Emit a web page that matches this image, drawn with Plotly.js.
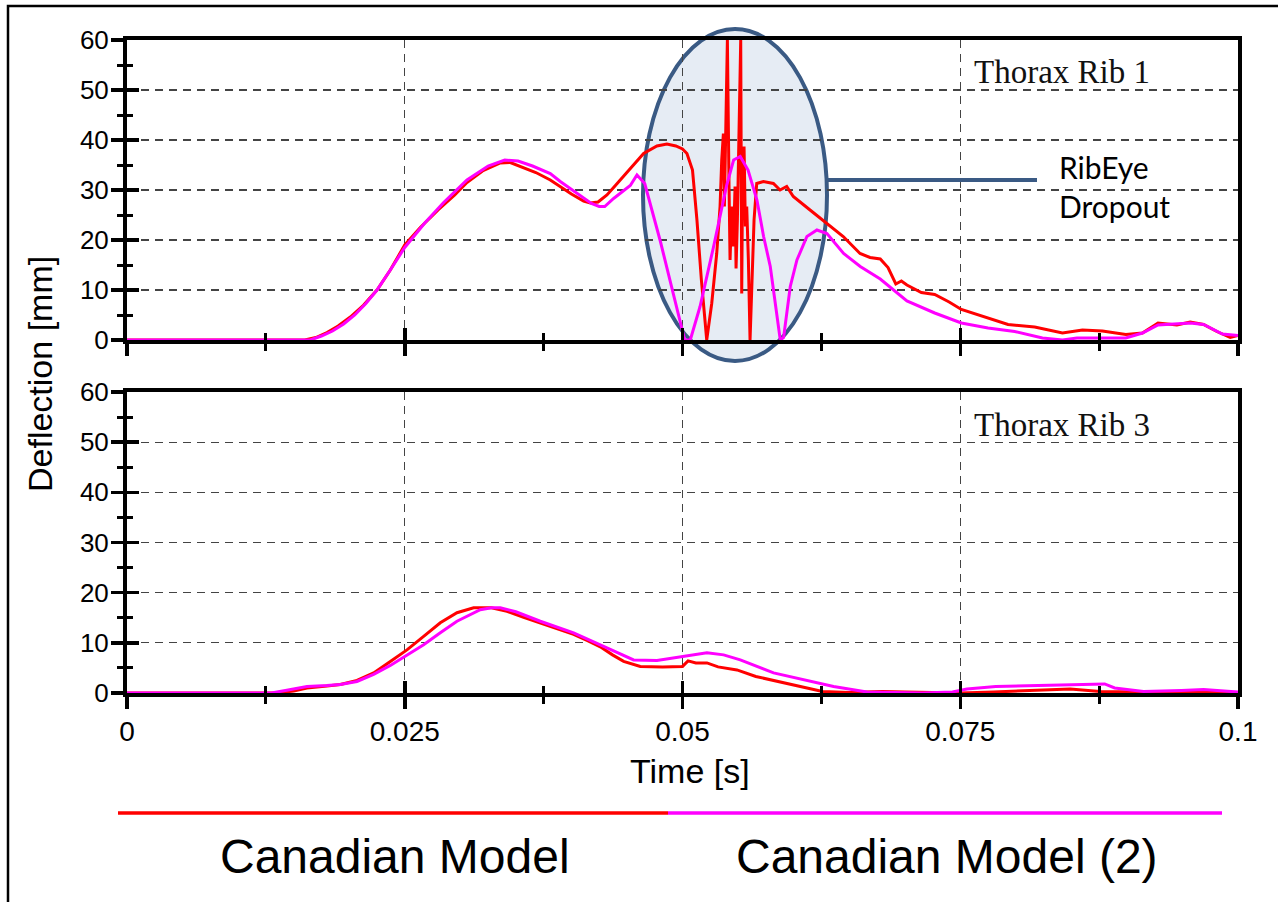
<!DOCTYPE html>
<html><head><meta charset="utf-8">
<script src="https://cdn.plot.ly/plotly-3.0.1.min.js"></script>
<style>html,body{margin:0;padding:0;background:#fff}#chart{width:1278px;height:902px}</style>
</head><body><div id="chart"></div>
<script>
// ---- data (time in s, deflection in mm) ----
const rib1TimeModel = [0,0.010,0.0160,0.0170,0.0180,0.0190,0.0201,0.0213,0.0225,0.0237,0.0250,0.0264,0.0280,0.0295,0.0306,0.0320,0.0336,0.0345,0.0354,0.0368,0.0381,0.0390,0.0400,0.0411,0.0417,0.0424,0.0432,0.0440,0.0450,0.0458,0.0465,0.0477,0.0486,0.0494,0.0500,0.0504,0.0509,0.0513,0.0517,0.05218,0.05263,0.05308,0.05338,0.05353,0.05368,0.05377,0.05389,0.05404,0.05419,0.05428,0.05443,0.05458,0.05473,0.05482,0.05494,0.05509,0.05524,0.05533,0.05542,0.05554,0.05566,0.05578,0.05593,0.05608,0.05623,0.05644,0.05668,0.05728,0.05818,0.05878,0.05938,0.05997,0.06148,0.06298,0.06447,0.06598,0.06688,0.0678,0.0685,0.0692,0.0697,0.0702,0.0715,0.0727,0.0740,0.0751,0.0769,0.0793,0.0817,0.0842,0.0860,0.0878,0.0899,0.0914,0.0928,0.0945,0.0957,0.0969,0.0981,0.0993,0.1];
const rib1DeflModel = [0,0,0,0.5,1.5,2.8,4.6,7,10,14,19,22.5,26,29,31.5,33.8,35.4,35.5,34.7,33.5,32,30.7,29.2,27.8,27.4,27.6,29,31,33.5,35.5,37.3,38.8,39.2,38.8,38.2,37.3,34,24,12,0,7.3,17.3,26.7,36,41.3,26.7,38.7,60,30.7,16,26.7,18.7,30.7,14.3,24,38.7,60,9.3,37.3,38.7,22.7,26.7,16,0,10.7,24,31.3,31.7,31.3,30,30.7,28.7,26,23.3,20.7,17.3,16.5,16.2,14.5,11.2,11.8,11,9.5,9.1,7.6,6.1,4.8,3.1,2.6,1.4,2,1.8,1.1,1.4,3.4,3,3.6,3.1,1.7,0.5,0.9];

const rib1TimeModel2 = [0,0.0165,0.0175,0.0185,0.0195,0.0205,0.0215,0.0225,0.0237,0.0250,0.0268,0.0285,0.0306,0.0325,0.0340,0.0352,0.0365,0.0381,0.0390,0.0405,0.0418,0.0425,0.0430,0.0438,0.0445,0.0453,0.0459,0.0466,0.0480,0.0502,0.0507,0.05158,0.05278,0.05398,0.0546,0.0552,0.0559,0.0567,0.0573,0.0579,0.0588,0.0591,0.0597,0.0603,0.0612,0.0621,0.0630,0.0645,0.0660,0.0678,0.0702,0.0727,0.0751,0.0775,0.0799,0.0824,0.0842,0.0855,0.0872,0.0899,0.0914,0.0928,0.0957,0.0969,0.0986,0.1];
const rib1DeflModel2 = [0,0,0.8,1.8,3.2,5,7.3,10,14,18.5,23.4,27.5,32,34.8,36,35.8,34.8,33.3,31.7,29.3,27.3,26.7,26.7,28.3,29.5,30.9,33,31.3,19.8,0,0,6.7,18.5,31,36,36.7,34,28,20.7,14.7,0,0.5,10.7,16,20.7,22,21.3,17.3,14.7,12.2,7.8,5.4,3.4,2.4,1.7,0.4,0,0.4,0.4,0.4,1.4,3,3.4,3.1,1.2,0.9];

const rib3TimeModel = [0,0.0135,0.0150,0.0162,0.0180,0.0192,0.0207,0.0222,0.0237,0.0252,0.0267,0.0282,0.0297,0.0312,0.0328,0.0342,0.0357,0.0372,0.0387,0.0402,0.0415,0.0426,0.0437,0.0447,0.0462,0.0482,0.0500,0.0505,0.0512,0.0522,0.0532,0.0549,0.0566,0.0582,0.0599,0.0613,0.0626,0.0650,0.0680,0.0700,0.0750,0.0780,0.0816,0.0849,0.0876,0.0900,0.0950,0.1];
const rib3DeflModel = [0,0,0.4,1.0,1.4,1.7,2.5,4,6.3,8.6,11.3,14,16,17,17,16.3,15.1,14,12.8,11.7,10.4,9.2,7.6,6.3,5.3,5.2,5.3,6.4,6.0,6,5.2,4.6,3.3,2.5,1.6,0.9,0.3,0.1,0.3,0.2,0,0.2,0.5,0.8,0.3,0.2,0.1,0.1];

const rib3TimeModel2 = [0,0.0130,0.0145,0.0162,0.0180,0.0192,0.0207,0.0222,0.0237,0.0252,0.0267,0.0282,0.0297,0.0318,0.0328,0.0336,0.0350,0.0372,0.0402,0.0432,0.0456,0.0477,0.0500,0.0522,0.0537,0.0552,0.0582,0.0616,0.0636,0.0666,0.0716,0.0743,0.0756,0.0782,0.0816,0.0849,0.0880,0.0889,0.0915,0.0949,0.0969,0.1];
const rib3DeflModel2 = [0,0,0.6,1.3,1.5,1.7,2.3,3.7,5.5,7.6,9.6,12,14.3,16.6,17,17,16.2,14.3,12,9,6.6,6.5,7.3,8,7.6,6.6,4,2.3,1.3,0.2,0,0.2,0.8,1.3,1.5,1.6,1.8,1.0,0.3,0.5,0.7,0.2];

const xTickVals = [0, 0.025, 0.05, 0.075, 0.1];
const xTickText = ['0', '0.025', '0.05', '0.075', '0.1'];
const yTickVals = [0, 10, 20, 30, 40, 50, 60];
const seriesNames = ['Canadian Model', 'Canadian Model (2)'];
const seriesColors = ['#ff0000', '#ff00ff'];
const panelLabels = ['Thorax Rib 1', 'Thorax Rib 3'];

// ---- layout helpers (pixel -> paper) ----
const L = 127, R = 1238, T = 40, B = 693;
const px = v => (v - L) / (R - L);
const py = v => (B - v) / (B - T);

const FONT = 'Liberation Sans, Arial, sans-serif';

function trace(x, y, i, xa, ya) {
  return {x: x, y: y, type: 'scatter', mode: 'lines', name: seriesNames[i],
    line: {color: seriesColors[i], width: 3}, xaxis: xa, yaxis: ya, showlegend: false};
}
const data = [
  trace(rib1TimeModel, rib1DeflModel, 0, 'x', 'y'),
  trace(rib1TimeModel2, rib1DeflModel2, 1, 'x', 'y'),
  trace(rib3TimeModel, rib3DeflModel, 0, 'x2', 'y2'),
  trace(rib3TimeModel2, rib3DeflModel2, 1, 'x2', 'y2'),
  {x: [], y: [], xaxis: 'x3', yaxis: 'y', type: 'scatter', showlegend: false, hoverinfo: 'skip'},
  {x: [], y: [], xaxis: 'x', yaxis: 'y3', type: 'scatter', showlegend: false, hoverinfo: 'skip'},
  {x: [], y: [], xaxis: 'x4', yaxis: 'y2', type: 'scatter', showlegend: false, hoverinfo: 'skip'},
  {x: [], y: [], xaxis: 'x2', yaxis: 'y4', type: 'scatter', showlegend: false, hoverinfo: 'skip'}
];

const grid = {showgrid: true, gridcolor: '#444', gridwidth: 1.2, griddash: '8px,6px'};
function mainX(anchor, labels) {
  return Object.assign({}, grid, {anchor: anchor, domain: [0, 1], range: [0, 0.1], tickvals: xTickVals,
    ticktext: xTickText, showticklabels: labels, ticks: 'outside', ticklen: 12, tickwidth: 3.5, tickcolor: '#000',
    showline: true, linewidth: 4, linecolor: '#000', mirror: true, zeroline: false,
    tickfont: {family: FONT, size: 28, color: '#000'}, ticklabelstandoff: -2,
    minor: {dtick: 0.0125, tick0: 0, ticks: 'outside', ticklen: 7, tickwidth: 3, tickcolor: '#000', showgrid: false}});
}
function overX(over, anchor) {
  return {overlaying: over, anchor: anchor, range: [0, 0.1], tickvals: xTickVals, showticklabels: false,
    ticks: 'inside', ticklen: 12, tickwidth: 3.5, tickcolor: '#000', showgrid: false, showline: false, zeroline: false,
    minor: {dtick: 0.0125, tick0: 0, ticks: 'inside', ticklen: 7, tickwidth: 3, tickcolor: '#000', showgrid: false}};
}
function mainY(anchor, domain) {
  return Object.assign({}, grid, {anchor: anchor, domain: domain, range: [0, 60], tickvals: yTickVals,
    ticks: 'outside', ticklen: 12, tickwidth: 3.5, tickcolor: '#000', showline: true, linewidth: 4,
    linecolor: '#000', mirror: true, zeroline: false, tickfont: {family: FONT, size: 26, color: '#000'},
    ticklabelstandoff: -3,
    minor: {dtick: 5, tick0: 0, ticks: 'outside', ticklen: 6, tickwidth: 3, tickcolor: '#000', showgrid: false}});
}
function overY(over, anchor) {
  return {overlaying: over, anchor: anchor, side: 'left', range: [0, 60], tickvals: yTickVals, showticklabels: false,
    ticks: 'inside', ticklen: 12, tickwidth: 3.5, tickcolor: '#000', showgrid: false, showline: false, zeroline: false,
    minor: {dtick: 5, tick0: 0, ticks: 'inside', ticklen: 6, tickwidth: 3, tickcolor: '#000', showgrid: false}};
}

const topDom = [py(340), 1];
const botDom = [0, py(392)];

const layout = {
  width: 1278, height: 902,
  margin: {l: L, r: 1278 - R, t: T, b: 902 - B, pad: 0},
  paper_bgcolor: '#fff', plot_bgcolor: '#fff', showlegend: false,
  xaxis: mainX('y', false),
  yaxis: mainY('x', topDom),
  xaxis2: mainX('y2', true),
  yaxis2: mainY('x2', botDom),
  xaxis3: overX('x', 'y'),
  yaxis3: overY('y', 'x'),
  xaxis4: overX('x2', 'y2'),
  yaxis4: overY('y2', 'x2'),
  shapes: [
    // outer frame
    {type: 'rect', xref: 'paper', yref: 'paper', x0: px(8), x1: px(1300), y0: py(6), y1: py(920),
      line: {color: '#000', width: 2.5}, layer: 'above'},
    // dropout ellipse
    {type: 'circle', xref: 'paper', yref: 'paper', x0: px(643), x1: px(827), y0: py(29), y1: py(361),
      fillcolor: '#e6ecf4', line: {color: '#3a5a84', width: 4}, layer: 'below'},
    // pointer line
    {type: 'line', xref: 'paper', yref: 'paper', x0: px(827), x1: px(1037), y0: py(180), y1: py(180),
      line: {color: '#3a5a84', width: 4}},
    // legend lines
    {type: 'line', xref: 'paper', yref: 'paper', x0: px(118), x1: px(668), y0: py(813), y1: py(813),
      line: {color: seriesColors[0], width: 3.5}},
    {type: 'line', xref: 'paper', yref: 'paper', x0: px(668), x1: px(1222), y0: py(813), y1: py(813),
      line: {color: seriesColors[1], width: 3.5}}
  ],
  annotations: [
    {xref: 'paper', yref: 'paper', x: px(972), y: py(72), xanchor: 'left', yanchor: 'middle', showarrow: false,
      text: panelLabels[0], font: {family: 'Liberation Serif, Times New Roman, serif', size: 33, color: '#111'}},
    {xref: 'paper', yref: 'paper', x: px(972), y: py(425), xanchor: 'left', yanchor: 'middle', showarrow: false,
      text: panelLabels[1], font: {family: 'Liberation Serif, Times New Roman, serif', size: 33, color: '#111'}},
    {xref: 'paper', yref: 'paper', x: px(1057), y: py(186), xanchor: 'left', yanchor: 'middle', showarrow: false,
      align: 'left', text: 'RibEye<br>Dropout', font: {family: 'Lato, Open Sans, sans-serif', size: 30, color: '#000'}},
    {xref: 'paper', yref: 'paper', x: px(40), y: py(374), xanchor: 'center', yanchor: 'middle', showarrow: false,
      textangle: -90, text: 'Deflection [mm]', font: {family: FONT, size: 34, color: '#000'}},
    {xref: 'paper', yref: 'paper', x: px(690), y: py(771), xanchor: 'center', yanchor: 'middle', showarrow: false,
      text: 'Time [s]', font: {family: FONT, size: 34, color: '#000'}},
    {xref: 'paper', yref: 'paper', x: px(395), y: py(856), xanchor: 'center', yanchor: 'middle', showarrow: false,
      text: seriesNames[0], font: {family: FONT, size: 48, color: '#000'}},
    {xref: 'paper', yref: 'paper', x: px(947), y: py(856), xanchor: 'center', yanchor: 'middle', showarrow: false,
      text: seriesNames[1], font: {family: FONT, size: 48, color: '#000'}}
  ]
};

Plotly.newPlot('chart', data, layout, {staticPlot: true, displayModeBar: false});
</script>
</body></html>
